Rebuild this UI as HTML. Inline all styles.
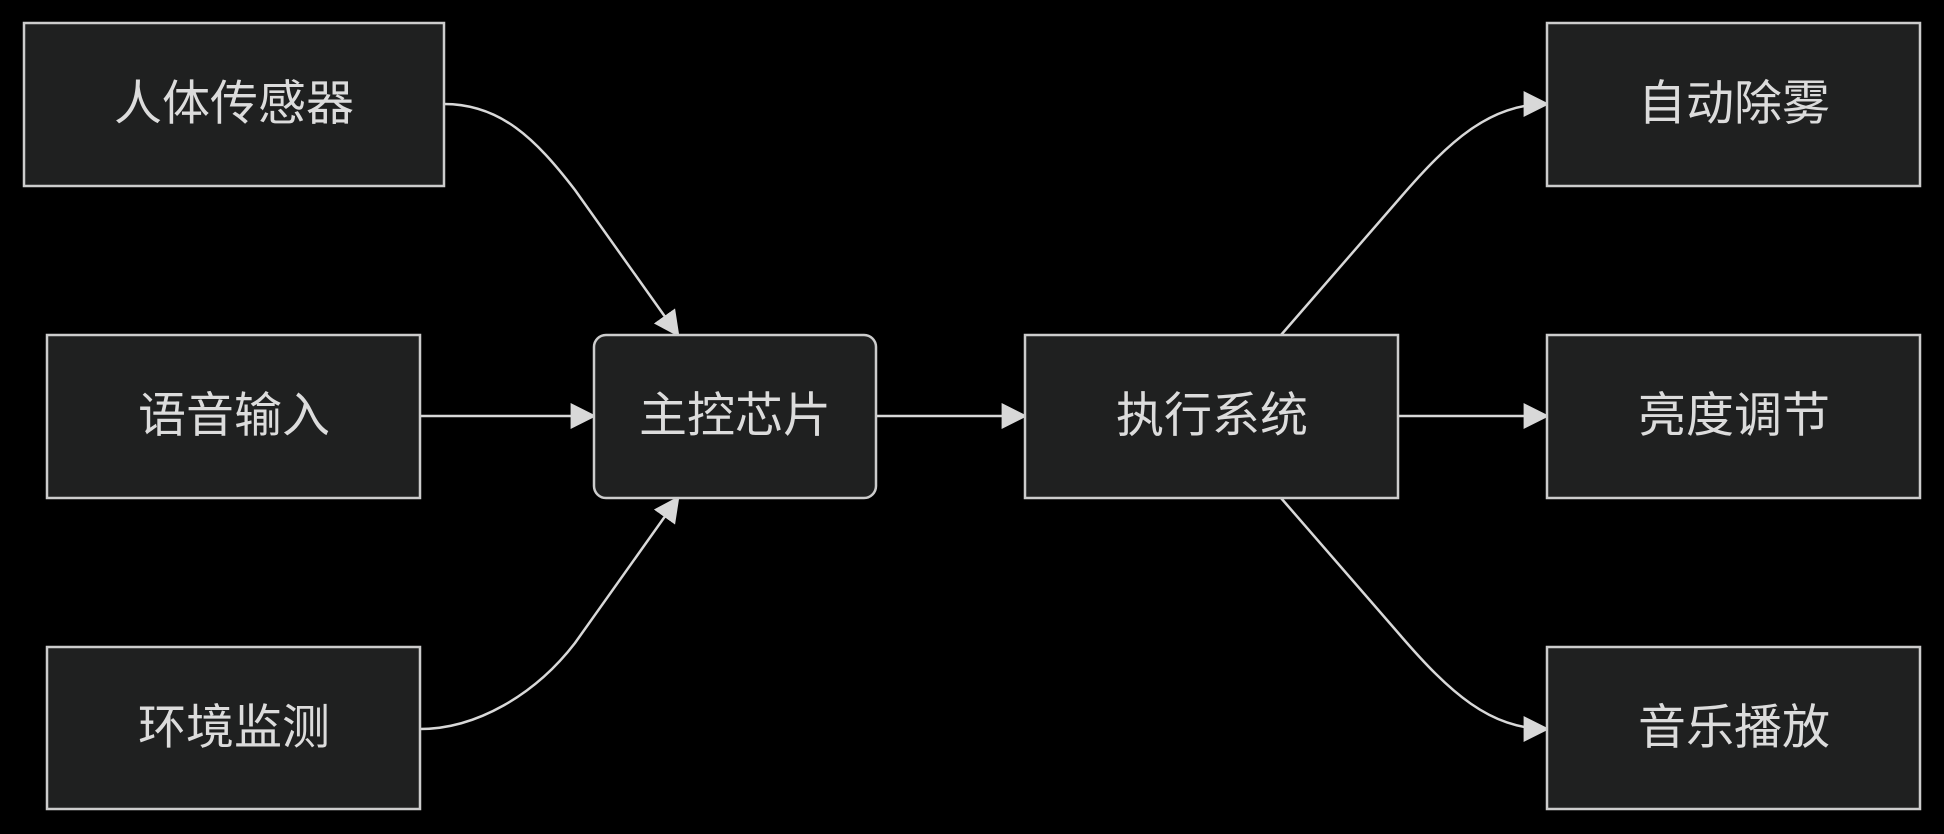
<!DOCTYPE html>
<html><head><meta charset="utf-8"><style>
html,body{margin:0;padding:0;background:#000;width:1944px;height:834px;overflow:hidden}
text{font-family:"Liberation Sans","Noto Sans CJK SC",sans-serif;font-size:48px;fill:#dcdcdc}
</style></head><body>
<svg width="1944" height="834" viewBox="0 0 1944 834" xmlns="http://www.w3.org/2000/svg">
<defs><marker id="b" viewBox="0 0 10 10" refX="9" refY="5" markerWidth="26" markerHeight="26" markerUnits="userSpaceOnUse" orient="auto"><path d="M0,0L10,5L0,10z" fill="#d8d8d8"/></marker></defs>
<g fill="none" stroke="#d8d8d8" stroke-width="2.5">
<path d="M444,104 C500,104 535,138 575,190 L678,335" marker-end="url(#b)"/>
<path d="M420,729 C476,729 535,695 575,643 L678,498" marker-end="url(#b)"/>
<path d="M420,416 L594,416" marker-end="url(#b)"/>
<path d="M876,416 L1025,416" marker-end="url(#b)"/>
<path d="M1398,416 L1547,416" marker-end="url(#b)"/>
<path d="M1281,335 L1400,198 C1450,140 1490,104 1547,104" marker-end="url(#b)"/>
<path d="M1281,498 L1400,635 C1450,693 1490,729 1547,729" marker-end="url(#b)"/>
</g>
<g fill="#1f2020" stroke="#cccccc" stroke-width="2.5">
<rect x="24" y="23" width="420" height="163"/>
<rect x="47" y="335" width="373" height="163"/>
<rect x="47" y="647" width="373" height="162"/>
<rect x="594" y="335" width="282" height="163" rx="12"/>
<rect x="1025" y="335" width="373" height="163"/>
<rect x="1547" y="23" width="373" height="163"/>
<rect x="1547" y="335" width="373" height="163"/>
<rect x="1547" y="647" width="373" height="162"/>
</g>
<g text-anchor="middle" dominant-baseline="central">
<text x="234" y="104">人体传感器</text>
<text x="234" y="416">语音输入</text>
<text x="234" y="728">环境监测</text>
<text x="735" y="416">主控芯片</text>
<text x="1212" y="416">执行系统</text>
<text x="1734" y="104">自动除雾</text>
<text x="1734" y="416">亮度调节</text>
<text x="1734" y="728">音乐播放</text>
</g>
</svg>
</body></html>
